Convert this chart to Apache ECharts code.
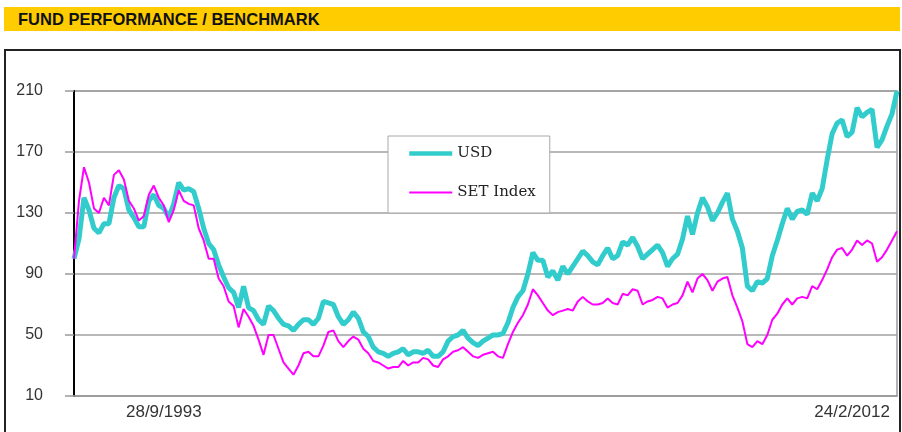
<!DOCTYPE html>
<html>
<head>
<meta charset="utf-8">
<script src="https://cdn.jsdelivr.net/npm/echarts@6/dist/echarts.min.js"></script>
<style>
  body { margin: 0; background: #fff; }
  #bar {
    position: absolute; left: 4px; top: 7px; width: 896px; height: 24px;
    background: #ffcc00; font: bold 16.5px 'Liberation Sans', Arial, sans-serif;
    line-height: 25px; color: #111; padding-left: 14px; box-sizing: border-box;
  }
  #box {
    position: absolute; left: 4px; top: 49px; width: 897px; height: 420px;
    border: 2px solid #222; box-sizing: border-box;
  }
  #chart { position: absolute; left: 0; top: 0; width: 902px; height: 432px; }
</style>
</head>
<body>
<div id="bar">FUND PERFORMANCE / BENCHMARK</div>
<div id="box"></div>
<div id="chart"></div>
<script>
// values, one point every ~5px
const usd = [
  100, 113, 140, 132, 120, 117, 123, 123, 140, 148, 146, 132, 127, 121, 121, 138, 142, 135, 133, 127,
  136, 150, 145, 146, 144, 133, 120, 110, 106, 96, 88, 81, 78, 68, 82, 68, 66, 60, 57, 69,
  66, 61, 57, 56, 53, 57, 60, 60, 57, 61, 72, 71, 70, 62, 57, 60, 65, 61, 52, 49,
  42, 39, 38, 36, 38, 39, 41, 37, 39, 39, 38, 40, 36, 36, 39, 46, 49, 50, 53, 48,
  45, 43, 46, 48, 50, 50, 51, 58, 68, 75, 79, 90, 104, 99, 99, 88, 92, 86, 95, 90,
  95, 100, 105, 102, 98, 96, 102, 107, 100, 102, 111, 109, 114, 108, 100, 103, 106, 109, 104, 95,
  100, 103, 113, 128, 116, 130, 140, 134, 125, 130, 137, 143, 126, 118, 107, 82, 79, 85, 84, 87,
  102, 112, 123, 133, 126, 131, 132, 129, 143, 138, 146, 165, 182, 189, 191, 180, 183, 199, 193, 196,
  198, 173, 178, 187, 195, 210
];
const setIndex = [
  100, 138, 160, 150, 133, 130, 140, 135, 155, 158, 152, 138, 133, 125, 128, 142, 148, 140, 135, 124,
  132, 145, 138, 136, 135, 120, 112, 100, 100, 87, 82, 72, 69, 55, 67, 62, 56, 47, 37, 50,
  50, 41, 32, 28, 24, 30, 38, 39, 36, 36, 43, 52, 53, 46, 42, 46, 49, 47, 41, 38,
  33, 32, 30, 28, 29, 29, 33, 30, 32, 32, 35, 34, 30, 29, 34, 36, 39, 40, 42, 39,
  36, 35, 37, 38, 39, 36, 35, 44, 52, 58, 63, 70, 80, 76, 71, 66, 63, 65, 66, 67,
  66, 72, 75, 72, 70, 70, 71, 74, 71, 70, 77, 76, 80, 79, 70, 72, 73, 75, 74, 68,
  70, 71, 76, 85, 78, 87, 90, 86, 79, 85, 87, 88, 76, 68, 59, 44, 42, 46, 44, 50,
  60, 64, 70, 74, 70, 74, 75, 74, 82, 80, 86, 93, 101, 106, 107, 102, 106, 112, 109, 112,
  110, 98, 101, 106, 112, 118
];
const tickLabels = ['28/9/1993', '24/2/2012'];
const tickIndex = [18, 156];
const yTicks = [10, 50, 90, 130, 170, 210];

const categories = usd.map((_, i) => String(i));

const chart = echarts.init(document.getElementById('chart'));

chart.setOption({
  animation: false,
  grid: {
    left: 74, right: 5, top: 91, bottom: 36,
    show: true, borderColor: '#9a9a9a', borderWidth: 1.5, backgroundColor: 'transparent'
  },
  legend: {
    left: 388, top: 136,
    orient: 'vertical',
    backgroundColor: '#fff',
    borderColor: '#a8a8a8', borderWidth: 1,
    padding: [10, 14, 13, 19],
    itemWidth: 43, itemHeight: 14, itemGap: 24,
    itemStyle: { opacity: 0 },
    textStyle: { fontFamily: 'DejaVu Serif', fontSize: 15, color: '#222' },
    data: [
      { name: 'USD', lineStyle: { width: 4.5 } },
      { name: 'SET Index', lineStyle: { width: 2 } }
    ]
  },
  xAxis: {
    type: 'category',
    data: categories,
    boundaryGap: false,
    axisLine: { lineStyle: { color: '#9a9a9a', width: 1.5 } },
    axisTick: { show: false },
    splitLine: { show: false },
    axisLabel: {
      interval: (idx) => tickIndex.includes(idx),
      formatter: (v) => tickLabels[tickIndex.indexOf(+v)] || '',
      fontFamily: 'Liberation Sans', fontSize: 17, color: '#333', margin: 8
    }
  },
  yAxis: {
    type: 'value',
    min: yTicks[0], max: yTicks[yTicks.length - 1], interval: 40,
    axisLine: { show: true, lineStyle: { color: '#000', width: 2 } },
    axisTick: { show: true, length: 9, lineStyle: { color: '#9a9a9a', width: 1.5 } },
    splitLine: { lineStyle: { color: '#a0a0a0', width: 1.5 } },
    axisLabel: { fontFamily: 'Liberation Sans', fontSize: 16, color: '#333', margin: 31 }
  },
  series: [
    {
      name: 'USD', type: 'line', data: usd, symbol: 'none', z: 2,
      lineStyle: { color: '#33cccc', width: 5 }, itemStyle: { color: '#33cccc' }
    },
    {
      name: 'SET Index', type: 'line', data: setIndex, symbol: 'none', z: 3,
      lineStyle: { color: '#ff00ff', width: 2 }, itemStyle: { color: '#ff00ff' }
    }
  ]
});
</script>
</body>
</html>
